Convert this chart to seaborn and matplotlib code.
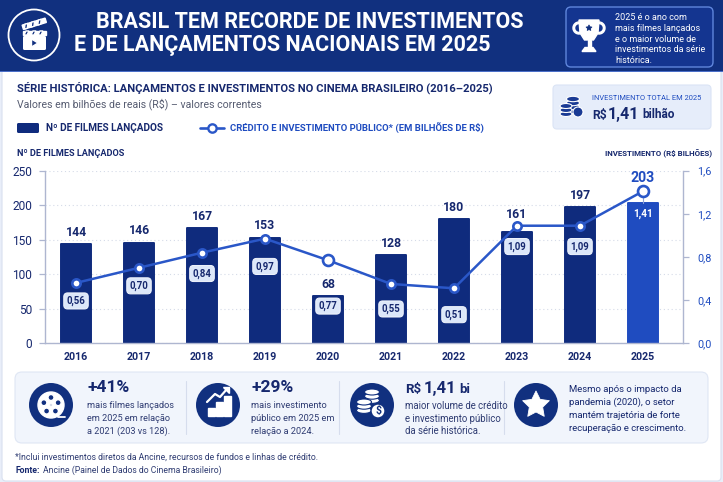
import numpy as np
import pandas as pd
import matplotlib
matplotlib.use("Agg")
import matplotlib.pyplot as plt
from matplotlib.patches import FancyBboxPatch, Circle, Rectangle, Polygon, Ellipse, PathPatch, Wedge
from matplotlib.path import Path
from matplotlib.transforms import Affine2D
import seaborn as sns

years = ["2016", "2017", "2018", "2019", "2020", "2021", "2022", "2023", "2024", "2025"]
films = [144, 146, 167, 153, 68, 128, 180, 161, 197, 203]
invest = [0.56, 0.70, 0.84, 0.97, 0.77, 0.55, 0.51, 1.09, 1.09, 1.41]
film_ticks = [0, 50, 100, 150, 200, 250]
invest_ticks = [0.0, 0.4, 0.8, 1.2, 1.6]
invest_tick_labels = ["0,0", "0,4", "0,8", "1,2", "1,6"]

NAVY = "#11307f"
BAR = "#0f2b7d"
BLUE = "#1f4cc0"
LINE = "#2a57c8"
INK = "#16286e"
BODY = "#2f3c72"

sns.set_theme(style="white")
plt.rcParams["font.family"] = ["Roboto", "DejaVu Sans"]

W, H = 723, 482
fig = plt.figure(figsize=(W / 100, H / 100), dpi=100, facecolor="#e9eef9")

# page layer, addressed in pixels from the top-left corner
bg = fig.add_axes([0, 0, 1, 1], zorder=0)
bg.set_xlim(0, W)
bg.set_ylim(H, 0)
bg.axis("off")


def label(x, y, s, size=8, color=INK, weight="normal", ha="left", **kw):
    return bg.text(x, y, s, fontsize=size, color=color, fontweight=weight,
                   ha=ha, va="center", **kw)


def rounded(x0, y0, x1, y1, r, fc, ec="none", lw=1.0, z=1):
    bg.add_patch(FancyBboxPatch((x0 + r, y0 + r), x1 - x0 - 2 * r, y1 - y0 - 2 * r,
                                boxstyle=f"round,pad={r},rounding_size={r}",
                                fc=fc, ec=ec, lw=lw, zorder=z))


def coin_stack(cx, top, n, rx, ry, step, fc, ink, z=4):
    for i in range(n - 1, -1, -1):
        y = top + i * step
        bg.add_patch(Ellipse((cx, y), 2 * rx, 2 * ry, fc=fc, ec=ink, lw=0.8, zorder=z))


# page card and header
rounded(2, 60, 721, 481, 4, "white", "#d9e0f0", 0.8)
bg.add_patch(Rectangle((0, 0), W, 71, fc=NAVY, ec="none", zorder=2))
bg.add_patch(Rectangle((0, 70.5), W, 1.2, fc="#4b6fc9", ec="none", zorder=2))

bg.add_patch(Circle((34, 35), 25.5, fc="none", ec="white", lw=1.3, zorder=3))
bg.add_patch(FancyBboxPatch((23, 36), 23, 14, boxstyle="round,pad=0,rounding_size=1.5",
                            fc="white", ec="none", zorder=3))
bg.add_patch(Polygon([(31.5, 39), (31.5, 47), (38, 43)], fc=NAVY, zorder=4))
bg.add_patch(Rectangle((23, 31), 23, 4, fc="white", zorder=3))
for k in range(3):
    bg.add_patch(Polygon([(26 + 7 * k, 31), (29 + 7 * k, 31), (27 + 7 * k, 35), (24 + 7 * k, 35)],
                         fc=NAVY, zorder=4))
clap = Affine2D().rotate_deg_around(23, 28, -17) + bg.transData
bg.add_patch(Rectangle((23, 25), 24, 4.5, fc="white", transform=clap, zorder=3))
for k in range(3):
    bg.add_patch(Polygon([(26 + 7 * k, 25), (29 + 7 * k, 25), (27 + 7 * k, 29.5), (24 + 7 * k, 29.5)],
                         fc=NAVY, transform=clap, zorder=4))

label(96, 21.5, "BRASIL TEM RECORDE DE INVESTIMENTOS", 15.5, "white", "bold", zorder=5)
label(74, 45.5, "E DE LANÇAMENTOS NACIONAIS EM 2025", 15.5, "white", "bold", zorder=5)

# trophy callout
rounded(566, 7, 713, 67, 5, "#143590", "#5f86dc", 1.0, z=3)
bg.add_patch(Polygon([(579, 20), (599, 20), (598, 33), (593.5, 40), (584.5, 40), (580, 33)],
                     fc="white", zorder=4))
for cx, t1, t2 in [(579, 80, 275), (599, -95, 100)]:
    bg.add_patch(Wedge((cx, 28), 6, t1, t2, width=1.6, fc="white", zorder=4))
bg.add_patch(Rectangle((587.5, 40), 3, 7.5, fc="white", zorder=4))
bg.add_patch(Polygon([(585, 47.5), (593, 47.5), (596, 51.5), (582, 51.5)], fc="white", zorder=4))


def star(cx, cy, r, fc, z=5):
    tr = Affine2D().scale(r, -r).translate(cx, cy) + bg.transData
    bg.add_patch(PathPatch(Path.unit_regular_star(5, 0.5), fc=fc, ec=fc, lw=0.6,
                           joinstyle="round", transform=tr, zorder=z))


star(589, 28, 3, NAVY)
trophy_lines = ["2025 é o ano com", "mais filmes lançados", "e o maior volume de",
                "investimentos da série", "histórica."]
for y, s in zip([18, 28.5, 39, 49.5, 60.5], trophy_lines):
    label(615, y, s, 6.5, "white", zorder=5)

# heading block
label(17, 88, "SÉRIE HISTÓRICA: LANÇAMENTOS E INVESTIMENTOS NO CINEMA BRASILEIRO (2016–2025)",
      8.15, INK, "bold")
label(17, 104, "Valores em bilhões de reais (R$) – valores correntes", 7.55, "#555b70")

# legend
rounded(17, 123, 39, 133, 1.5, BAR)
label(46, 128, "Nº DE FILMES LANÇADOS", 7.2, INK, "bold")
bg.plot([200, 224], [128, 128], color=LINE, lw=1.9, zorder=3)
bg.plot([212], [128], "o", ms=6, mfc="white", mec=LINE, mew=1.7, zorder=4)
label(230, 128, "CRÉDITO E INVESTIMENTO PÚBLICO* (EM BILHÕES DE R$)", 6.8, BLUE, "bold")

# total investment box
rounded(553, 85, 711, 129, 4, "#e6edfa", "#dbe4f5", 0.8)
coin_stack(573, 99, 4, 6.5, 2.7, 4, "#1a3a94", "white")
coin_stack(566, 106, 3, 6, 2.5, 4, "#1a3a94", "white")
bg.add_patch(Circle((578, 112), 5, fc="#1a3a94", ec="white", lw=0.8, zorder=5))
label(592, 99, "INVESTIMENTO TOTAL EM 2025", 5.4, BLUE)
label(592, 115, "R$", 8.8, INK, "bold")
label(608, 114, "1,41", 11.5, INK, "bold")
label(642, 115, "bilhão", 8.6, INK, "bold")

# axis captions
label(17, 154, "Nº DE FILMES LANÇADOS", 6.6, INK, "bold")
label(712, 154, "INVESTIMENTO (R$ BILHÕES)", 5.7, INK, "bold", ha="right")

# highlights panel
rounded(15, 372, 708, 443, 7, "#f1f5fc", "#dfe6f4", 0.8)
for x in [186, 339, 504]:
    bg.plot([x, x], [381, 434], color="#d6dded", lw=0.8, zorder=2)
for cx in [51, 218, 372, 536]:
    bg.add_patch(Circle((cx, 405), 22, fc=NAVY, ec="none", zorder=3))

# film reel
bg.add_patch(Circle((51, 405), 13, fc="white", zorder=4))
for a in np.deg2rad([90, 162, 234, 306, 18]):
    bg.add_patch(Circle((51 + 7.5 * np.cos(a), 405 - 7.5 * np.sin(a)), 3, fc=NAVY, zorder=5))
bg.add_patch(Circle((51, 405), 1.2, fc=NAVY, zorder=5))
bg.plot([58, 65], [417, 417], color="white", lw=1.3, zorder=4)

# rising bars
for x0, y0 in [(208, 407.5), (216, 402), (224, 396)]:
    bg.add_patch(Rectangle((x0, y0), 6.5, 416 - y0, fc="white", zorder=4))
bg.plot([207, 215, 220, 227], [402, 394, 397, 389], color="white", lw=1.6, zorder=4)
bg.add_patch(Polygon([(223, 387), (229, 387), (229, 393)], fc="white", zorder=4))

# coins
coin_stack(372, 392, 3, 7.5, 3, 4.2, "white", NAVY)
coin_stack(364, 402, 3, 7.5, 3, 4.2, "white", NAVY)
bg.add_patch(Circle((378, 411), 7, fc="white", ec=NAVY, lw=1, zorder=5))
label(378, 411, "$", 7.5, NAVY, "bold", ha="center", zorder=6)

star(536, 405, 14, "white")

label(87, 388, "+41%", 12.5, INK, "bold", zorder=5)
for y, s in zip([406, 418.5, 431], ["mais filmes lançados", "em 2025 em relação", "a 2021 (203 vs 128)."]):
    label(87, y, s, 6.6, BODY, zorder=5)
label(251, 388, "+29%", 12.5, INK, "bold", zorder=5)
for y, s in zip([406, 418.5, 431], ["mais investimento", "público em 2025 em", "relação a 2024."]):
    label(251, y, s, 6.7, BODY, zorder=5)
label(405, 389.5, "R$", 9.5, INK, "bold", zorder=5)
label(424, 388, "1,41", 12, INK, "bold", zorder=5)
label(459.5, 389.5, "bi", 9.5, INK, "bold", zorder=5)
for y, s in zip([406, 418.5, 431], ["maior volume de crédito", "e investimento público", "da série histórica."]):
    label(405, y, s, 6.9, BODY, zorder=5)
for y, s in zip([390, 402.5, 415, 428], ["Mesmo após o impacto da", "pandemia (2020), o setor",
                                         "mantém trajetória de forte", "recuperação e crescimento."]):
    label(569, y, s, 6.8, INK, zorder=5)

label(15, 457, "*Inclui investimentos diretos da Ancine, recursos de fundos e linhas de crédito.",
      6.25, BODY, zorder=5)
label(15, 470.5, "Fonte:", 6.25, INK, "bold", zorder=5)
label(43, 470.5, "Ancine (Painel de Dados do Cinema Brasileiro)", 6.25, BODY, zorder=5)

# chart area
px0, px1, py_top, py_bot = 44.5, 682.7, 170.7, 343.3
ax = fig.add_axes([px0 / W, 1 - py_bot / H, (px1 - px0) / W, (py_bot - py_top) / H], zorder=1)
ax.patch.set_alpha(0)

df = pd.DataFrame({"ano": years, "filmes": films, "investimento": invest})
bar_colors = [BAR] * 9 + [BLUE]
sns.barplot(data=df, x="ano", y="filmes", hue="ano", palette=bar_colors, width=0.47,
            saturation=1, legend=False, ax=ax, zorder=2)
for patch, c in zip(ax.patches, bar_colors):
    patch.set(edgecolor=c, linewidth=1.4, joinstyle="round")

x_limits = (-0.5, 9.63)
ax.set_xlim(*x_limits)
ax.set_ylim(0, 250)
ax.set_yticks(film_ticks)
ax.set_xlabel("")
ax.set_ylabel("")
ax.yaxis.grid(True, color="#d5dbe8", lw=0.8, ls=(0, (1, 2.5)))
ax.set_axisbelow(True)
ax.tick_params(axis="y", length=4, width=0.9, color="#aeb6d0", labelsize=8.6, labelcolor=INK, pad=5)
ax.tick_params(axis="x", length=0, labelsize=7.7, labelcolor=INK, pad=6.5)
for t in ax.get_xticklabels():
    t.set_fontweight("bold")
for name in ["left", "bottom"]:
    ax.spines[name].set(color="#aeb6d0", linewidth=1.0)
for name in ["top", "right"]:
    ax.spines[name].set_visible(False)

ax2 = ax.twinx()
ax2.set_zorder(2)
ax2.patch.set_alpha(0)
sns.lineplot(data=df, x="ano", y="investimento", color=LINE, lw=1.8, marker="o", ms=6,
             mfc="white", mec=LINE, mew=1.9, sort=False, ax=ax2, zorder=5)
# 2020 and 2025 carry a wider ring
sns.scatterplot(data=df[df["ano"].isin(["2020", "2025"])], x="ano", y="investimento", s=62,
                color="white", edgecolor=LINE, linewidth=1.9, legend=False, ax=ax2, zorder=6)
ax2.set_xlim(*x_limits)
ax2.set_ylim(0, 1.6)
ax2.set_yticks(invest_ticks, invest_tick_labels)
ax2.set_xlabel("")
ax2.set_ylabel("")
ax2.grid(False)
ax2.tick_params(axis="y", length=4, width=0.9, color="#aeb6d0", labelsize=7.8, labelcolor=BLUE, pad=6.5)
for name in ["left", "top", "bottom"]:
    ax2.spines[name].set_visible(False)
ax2.spines["right"].set(color="#aeb6d0", linewidth=1.0)

# film counts above the bars; 2023 sits higher to clear the line marker
count_lift = [8.5] * 10
count_lift[7] = 12.5
count_lift[9] = 18
for i, (v, lift) in enumerate(zip(films, count_lift)):
    ax.annotate(str(v), (i, v), xytext=(0, lift), textcoords="offset points", ha="center",
                va="center", fontsize=10.2 if i == 9 else 8.8, fontweight="bold",
                color=BLUE if i == 9 else INK, zorder=6)

# investment badges under the line; 2020 sits inside its short bar
badge_drop = [13, 13, 15, 20, 33, 18, 19, 15, 15]
for i, (v, drop) in enumerate(zip(invest[:-1], badge_drop)):
    ax2.annotate(f"{v:.2f}".replace(".", ","), (i, v), xytext=(0, -drop),
                 textcoords="offset points", ha="center", va="center", fontsize=6.9,
                 fontweight="bold", color=INK, zorder=4,
                 bbox=dict(boxstyle="round,pad=0.3,rounding_size=0.4", fc="#dce7f9", ec="#f2f6fd", lw=0.7))
ax2.annotate("1,41", (9, 0), xytext=(0, 93), textcoords="offset points", ha="center",
             va="center", fontsize=7.2, fontweight="bold", color="white", zorder=4)
ax2.plot([9, 9], [invest[9], films[9] / 250 * 1.6], color="#8fa3d8", lw=0.8, zorder=3)

fig.savefig("out.png", dpi=100, facecolor=fig.get_facecolor())
